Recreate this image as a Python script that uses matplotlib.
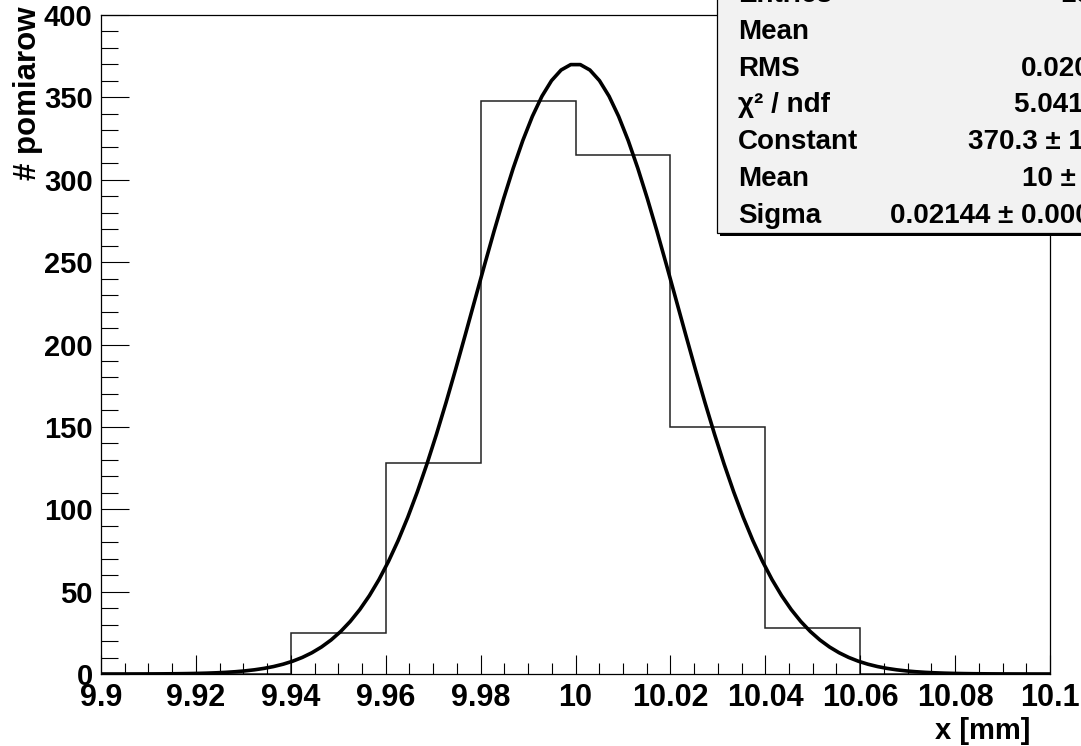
import matplotlib
matplotlib.use('Agg')
import matplotlib.pyplot as plt
import numpy as np
from matplotlib.patches import Rectangle
from matplotlib.ticker import MultipleLocator

# histogram data (bins of 0.02 mm)
bin_edges = [9.90, 9.92, 9.94, 9.96, 9.98, 10.00, 10.02, 10.04, 10.06, 10.08, 10.10]
counts = [0, 0, 25, 128, 348, 315, 150, 28, 0, 0]

# gaussian fit parameters
fit_const = 370.3
fit_mean = 10.0
fit_sigma = 0.02144

xticks = [9.90, 9.92, 9.94, 9.96, 9.98, 10.00, 10.02, 10.04, 10.06, 10.08, 10.10]
xtick_labels = ['9.9', '9.92', '9.94', '9.96', '9.98', '10', '10.02', '10.04', '10.06', '10.08', '10.1']
yticks = [0, 50, 100, 150, 200, 250, 300, 350, 400]

stat_names = ['Entries', 'Mean', 'RMS', 'χ² / ndf', 'Constant', 'Mean', 'Sigma']
stat_values = ['1000', '10', '0.02045', '5.041 / 3', '370.3 ± 14.6', '10 ± 0.0', '0.02144 ± 0.00067']

plt.rcParams['font.family'] = ['Liberation Sans', 'DejaVu Sans']
plt.rcParams['font.weight'] = 'bold'

W, H = 1081, 746
fig = plt.figure(figsize=(W / 100, H / 100), dpi=100)
L, R, T, B = 101, 1050, 15, 674
ax = fig.add_axes([L / W, (H - B) / H, (R - L) / W, (B - T) / H])

ax.stairs(counts, bin_edges, color='#222222', lw=1.1)

xf = np.linspace(bin_edges[0], bin_edges[-1], 100)
yf = fit_const * np.exp(-0.5 * ((xf - fit_mean) / fit_sigma) ** 2)
ax.plot(xf, yf, color='black', lw=2.6)

ax.set_xlim(9.9, 10.1)
ax.set_ylim(0, 400)
ax.set_xticks(xticks)
ax.set_xticklabels(xtick_labels, fontsize=22, fontweight='bold')
ax.set_yticks(yticks)
ax.set_yticklabels([str(v) for v in yticks], fontsize=21, fontweight='bold')
ax.xaxis.set_minor_locator(MultipleLocator(0.005))
ax.yaxis.set_minor_locator(MultipleLocator(10))
ax.tick_params(axis='x', which='major', direction='in', length=13.7, width=0.8, pad=6.5)
ax.tick_params(axis='x', which='minor', direction='in', length=7.9, width=0.8)
ax.tick_params(axis='y', which='major', direction='in', length=20, width=0.8, pad=6)
ax.tick_params(axis='y', which='minor', direction='in', length=12, width=0.8)
for s in ax.spines.values():
    s.set_linewidth(0.9)

fig.text(1030 / W, (H - 731) / H, 'x [mm]', ha='right', va='center', fontsize=21, fontweight='bold')
fig.text(28 / W, (H - 6) / H, '# pomiarow', ha='center', va='top', rotation=90,
         fontsize=22.5, fontweight='bold')

# stats box
bx, by = 717, 233
fig.add_artist(Rectangle(((bx + 3) / W, (H - by - 3) / H), 600 / W, 400 / H,
                         transform=fig.transFigure, facecolor='black', edgecolor='none', zorder=10))
fig.add_artist(Rectangle((bx / W, (H - by) / H), 600 / W, 400 / H,
                         transform=fig.transFigure, facecolor='#f2f2f2', edgecolor='black',
                         lw=0.9, zorder=11))
for i, (name, val) in enumerate(zip(stat_names, stat_values)):
    yc = -5 + 36.8 * i
    fig.text(738 / W, (H - yc) / H, name, ha='left', va='center', fontsize=20,
             fontweight='bold', zorder=12)
    fig.text(1122 / W, (H - yc) / H, val, ha='right', va='center', fontsize=20,
             fontweight='bold', zorder=12)

fig.savefig('out.png', dpi=100)
